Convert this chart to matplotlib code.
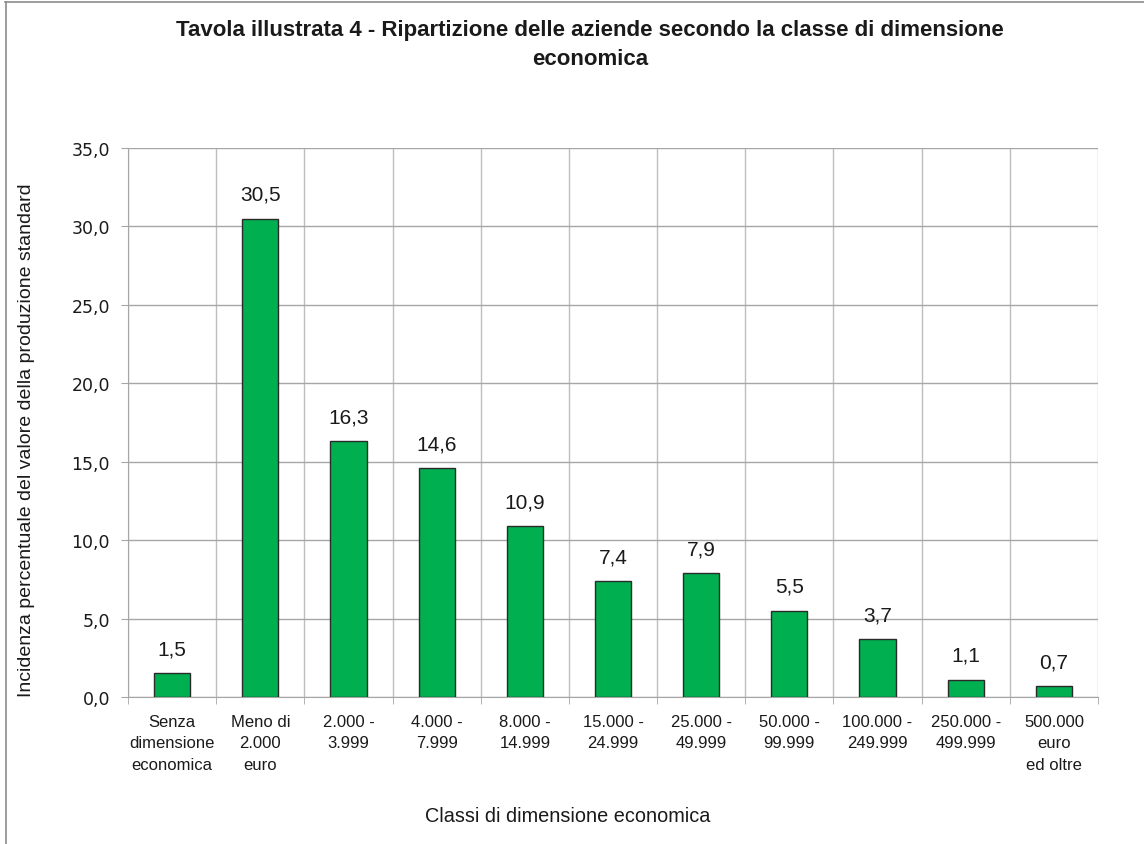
import matplotlib
matplotlib.use("Agg")
import matplotlib.pyplot as plt
from matplotlib.lines import Line2D
import numpy as np

categories = ["Senza\ndimensione\neconomica", "Meno di\n2.000\neuro", "2.000 -\n3.999",
              "4.000 -\n7.999", "8.000 -\n14.999", "15.000 -\n24.999", "25.000 -\n49.999",
              "50.000 -\n99.999", "100.000 -\n249.999", "250.000 -\n499.999",
              "500.000\neuro\ned oltre"]
values = [1.5, 30.5, 16.3, 14.6, 10.9, 7.4, 7.9, 5.5, 3.7, 1.1, 0.7]
value_labels = ["1,5", "30,5", "16,3", "14,6", "10,9", "7,4", "7,9", "5,5", "3,7", "1,1", "0,7"]
yticks = [0, 5, 10, 15, 20, 25, 30, 35]
ytick_labels = ["0,0", "5,0", "10,0", "15,0", "20,0", "25,0", "30,0", "35,0"]

W, H = 1144, 845
fig = plt.figure(figsize=(W / 100, H / 100), dpi=100)
ax = fig.add_axes([128 / W, 1 - 698 / H, (1098 - 128) / W, (698 - 149) / H])

x = np.arange(len(categories))
ax.bar(x, values, width=0.41, color="#00B050", edgecolor="#2a2a2a", linewidth=1.0, zorder=3)

ax.set_xlim(-0.5, len(categories) - 0.5)
ax.set_ylim(0, 35)

ax.set_yticks(yticks)
ax.set_yticklabels(ytick_labels, fontsize=12.5, family="DejaVu Sans", color="#1a1a1a")
ax.yaxis.grid(True, color="#a6a6a6", linewidth=1.0, zorder=0)

boundaries = np.arange(len(categories) + 1) - 0.5
ax.set_xticks(boundaries, minor=True)
ax.xaxis.grid(True, which="minor", color="#bdbdbd", linewidth=1.0, zorder=0)
ax.set_xticks(x)
ax.set_xticklabels(categories, fontsize=12, family="Liberation Sans", color="#1a1a1a",
                   linespacing=1.55)
ax.tick_params(axis="x", which="major", length=0, pad=12)
ax.tick_params(axis="x", which="minor", length=5, color="#a6a6a6", direction="out")
ax.tick_params(axis="y", length=5, color="#a6a6a6", pad=8)

for s in ["top", "right"]:
    ax.spines[s].set_visible(False)
for s in ["left", "bottom"]:
    ax.spines[s].set_color("#a6a6a6")

for xi, v, lab in zip(x, values, value_labels):
    ax.annotate(lab, (xi, v), xytext=(0, 13.5), textcoords="offset points",
                ha="center", va="baseline", fontsize=15, family="Liberation Sans",
                color="#1a1a1a")

fig.text(590 / W, 1 - 45 / H,
         "Tavola illustrata 4 - Ripartizione delle aziende secondo la classe di dimensione\neconomica",
         ha="center", va="center", fontsize=16, fontweight="bold", family="Liberation Sans",
         color="#1a1a1a", linespacing=1.55)

fig.text(568 / W, 1 - 817 / H, "Classi di dimensione economica", ha="center", va="center",
         fontsize=14.3, family="Liberation Sans", color="#1a1a1a")

fig.text(27 / W, 1 - 440 / H,
         "Incidenza percentuale del valore della produzione standard",
         rotation=90, ha="center", va="center", fontsize=14,
         family="Liberation Sans", color="#1a1a1a")

fig.add_artist(Line2D([5 / W, 1], [1 - 2.5 / H, 1 - 2.5 / H], transform=fig.transFigure,
                      color="#8c8c8c", linewidth=1.2))
fig.add_artist(Line2D([5.5 / W, 5.5 / W], [0, 1 - 2.5 / H], transform=fig.transFigure,
                      color="#8c8c8c", linewidth=1.2))

fig.savefig("out.png", dpi=100, facecolor="white")
